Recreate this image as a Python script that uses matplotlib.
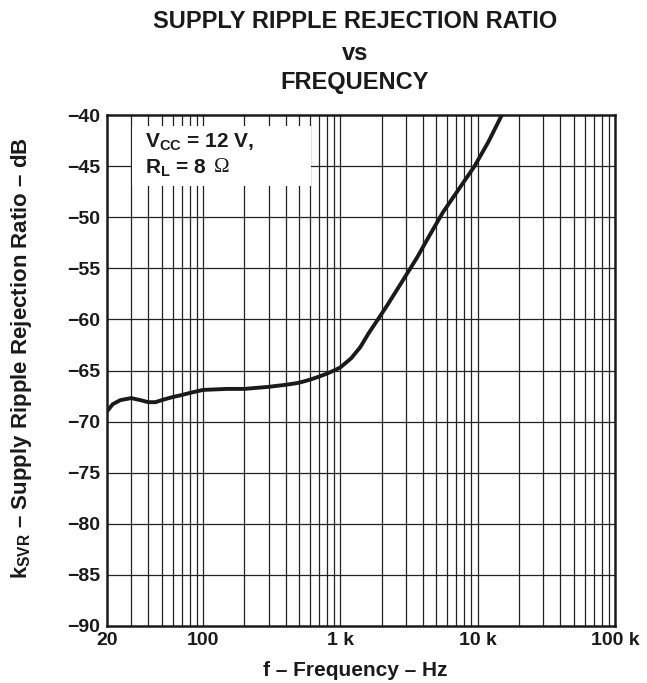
import matplotlib
matplotlib.use("Agg")
import matplotlib.pyplot as plt
from matplotlib.ticker import FixedLocator, NullFormatter
import matplotlib.patches as mpatches

plt.rcParams['font.family'] = ['Liberation Sans', 'DejaVu Sans']
plt.rcParams['mathtext.fontset'] = 'custom'
plt.rcParams['mathtext.rm'] = 'Liberation Sans:bold'
plt.rcParams['mathtext.bf'] = 'Liberation Sans:bold'
plt.rcParams['mathtext.it'] = 'Liberation Sans:bold'

freq_hz = [20, 22, 25, 30, 35, 40, 45, 50, 60, 70, 80, 100, 150, 200, 300, 400,
           500, 600, 700, 800, 900, 1000, 1200, 1400, 1600, 1900, 2200, 2700,
           3600, 4500, 5600, 7000, 9500, 12000, 15000]
ksvr_db = [-69.0, -68.3, -67.9, -67.7, -67.9, -68.1, -68.1, -67.9, -67.6, -67.4,
           -67.2, -66.9, -66.8, -66.8, -66.6, -66.4, -66.2, -65.9, -65.6, -65.3,
           -65.0, -64.7, -63.8, -62.7, -61.4, -59.9, -58.6, -56.7, -54.0, -51.7,
           -49.5, -47.6, -45.0, -42.6, -40.0]

xticks = [20, 100, 1000, 10000, 100000]
xticklabels = ['20', '100', '1 k', '10 k', '100 k']
yticks = list(range(-90, -39, 5))
yticklabels = ['\u221290', '\u221285', '\u221280', '\u221275', '\u221270', '\u221265',
               '\u221260', '\u221255', '\u221250', '\u221245', '\u221240']

W, H = 647, 683
fig = plt.figure(figsize=(W/100, H/100), dpi=100)
ax = fig.add_axes([107/W, 1-626/H, (615-107)/W, (626-115)/H])

ax.set_xscale('log')
ax.set_xlim(20, 100000)
ax.set_ylim(-90, -40)

# grid: decades + minor 2..9
minor = [m * 10**e for e in range(1, 5) for m in range(2, 10) if 20 < m * 10**e < 100000]
for x in minor + [100, 1000, 10000]:
    ax.axvline(x, color='#222222', lw=0.9, zorder=1)
for y in yticks[1:-1]:
    ax.axhline(y, color='#222222', lw=0.9, zorder=1)

ax.plot(freq_hz, ksvr_db, color='#1a1a1a', lw=2.8, zorder=3, solid_capstyle='round')

ax.xaxis.set_major_locator(FixedLocator(xticks))
ax.xaxis.set_minor_locator(FixedLocator([]))
ax.xaxis.set_minor_formatter(NullFormatter())
ax.set_xticklabels(xticklabels)
ax.set_yticks(yticks)
ax.set_yticklabels(yticklabels)
ax.tick_params(axis='y', length=0, labelsize=14, pad=5)
ax.tick_params(axis='x', length=0, labelsize=14, pad=4)
for lab in ax.get_xticklabels() + ax.get_yticklabels():
    lab.set_fontweight('bold')
    lab.set_color('#1a1a1a')

for s in ax.spines.values():
    s.set_linewidth(1.8)
    s.set_color('#1a1a1a')
    s.set_zorder(5)

# white legend box (pixel coordinates, bottom-left origin)
box = mpatches.Rectangle((132, H-186), 311-132, 186-126, transform=None,
                         facecolor='white', edgecolor='none', zorder=4)
fig.patches.append(box)
fig.text(145/W, 1-142/H, r'V$_{\mathbf{CC}}$ = 12 V,', fontsize=15, fontweight='bold',
         va='center', ha='left', color='#1a1a1a', zorder=10)
fig.text(145/W, 1-168/H, r'R$_{\mathbf{L}}$ = 8', fontsize=15, fontweight='bold',
         va='center', ha='left', color='#1a1a1a', zorder=10)
fig.text(214/W, 1-168/H, '\u03a9', fontsize=15, fontweight='normal',
         family='Liberation Serif', va='center', ha='left', color='#1a1a1a', zorder=10)

# title
for txt, yy in [('SUPPLY RIPPLE REJECTION RATIO', 22), ('vs', 53), ('FREQUENCY', 82)]:
    fig.text(355/W, 1-yy/H, txt, fontsize=17, fontweight='bold', ha='center', va='center',
             color='#1a1a1a')

fig.text(355/W, 1-670/H, 'f \u2013 Frequency \u2013 Hz', fontsize=15, fontweight='bold',
         ha='center', va='center', color='#1a1a1a')
fig.text(22/W, 1-358/H, 'k$_{\\mathbf{SVR}}$ \u2013 Supply Ripple Rejection Ratio \u2013 dB',
         fontsize=16, fontweight='bold', rotation=90, ha='center', va='center',
         color='#1a1a1a')

fig.savefig('out.png', dpi=100)
